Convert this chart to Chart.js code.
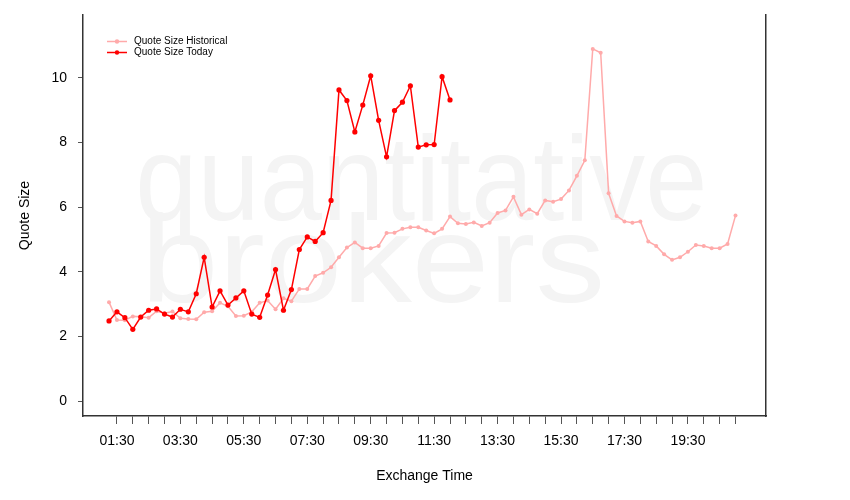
<!DOCTYPE html>
<html>
<head>
<meta charset="utf-8">
<script src="https://cdn.jsdelivr.net/npm/chart.js@4.4.1/dist/chart.umd.min.js"></script>
<style>
  html, body { margin: 0; padding: 0; background: #fff; }
  #chart { display: block; }
</style>
</head>
<body>
<canvas id="chart" width="850" height="500"></canvas>
<script>
// 15 minute buckets, exchange time
const times = [
  '01:15', '01:30', '01:45', '02:00', '02:15', '02:30', '02:45', '03:00',
  '03:15', '03:30', '03:45', '04:00', '04:15', '04:30', '04:45', '05:00',
  '05:15', '05:30', '05:45', '06:00', '06:15', '06:30', '06:45', '07:00',
  '07:15', '07:30', '07:45', '08:00', '08:15', '08:30', '08:45', '09:00',
  '09:15', '09:30', '09:45', '10:00', '10:15', '10:30', '10:45', '11:00',
  '11:15', '11:30', '11:45', '12:00', '12:15', '12:30', '12:45', '13:00',
  '13:15', '13:30', '13:45', '14:00', '14:15', '14:30', '14:45', '15:00',
  '15:15', '15:30', '15:45', '16:00', '16:15', '16:30', '16:45', '17:00',
  '17:15', '17:30', '17:45', '18:00', '18:15', '18:30', '18:45', '19:00',
  '19:15', '19:30', '19:45', '20:00', '20:15', '20:30', '20:45', '21:00'
];

const historical = [
  3.06, 2.51, 2.50, 2.62, 2.61, 2.58, 2.78, 2.72,
  2.77, 2.56, 2.54, 2.53, 2.75, 2.78, 3.04, 2.93,
  2.63, 2.64, 2.76, 3.04, 3.11, 2.84, 3.18, 3.09,
  3.47, 3.47, 3.87, 3.97, 4.14, 4.45, 4.75, 4.91,
  4.73, 4.73, 4.80, 5.20, 5.21, 5.33, 5.38, 5.38,
  5.28, 5.19, 5.33, 5.71, 5.50, 5.48, 5.53, 5.42,
  5.52, 5.82, 5.90, 6.32, 5.77, 5.93, 5.80, 6.21,
  6.17, 6.25, 6.52, 6.97, 7.45, 10.90, 10.78, 6.43,
  5.73, 5.56, 5.52, 5.56, 4.94, 4.80, 4.54, 4.37,
  4.45, 4.62, 4.83, 4.80, 4.73, 4.73, 4.86, 5.74
];

const today = [
  2.48, 2.76, 2.58, 2.22, 2.60, 2.81, 2.85, 2.69,
  2.60, 2.84, 2.76, 3.32, 4.45, 2.91, 3.41, 2.97,
  3.19, 3.41, 2.69, 2.59, 3.28, 4.07, 2.81, 3.45,
  4.69, 5.08, 4.94, 5.21, 6.21, 9.63, 9.30, 8.33,
  9.16, 10.07, 8.69, 7.56, 8.99, 9.25, 9.76, 7.86,
  7.93, 7.94, 10.04, 9.32
];

const tickLabels = ['01:30', '03:30', '05:30', '07:30', '09:30', '11:30', '13:30', '15:30', '17:30', '19:30'];
const yTicks = [0, 2, 4, 6, 8, 10];
const firstTick = '01:30';
const lastTick = '21:00';
const tickStep = 30; // minutes between small ticks

const fontFamily = '"Liberation Sans", Arial, Helvetica, sans-serif';
const frameColor = '#333';
const histColor = '#ffaaaa';
const todayColor = '#ff0000';

function toMinutes(t) {
  const [h, m] = t.split(':').map(Number);
  return h * 60 + m;
}

const labelMinutes = tickLabels.map(toMinutes);
const minorTicks = [];
for (let v = toMinutes(firstTick); v <= toMinutes(lastTick); v += tickStep) minorTicks.push(v);

const histPoints = historical.map((v, i) => ({ x: toMinutes(times[i]), y: v }));
const todayPoints = today.map((v, i) => ({ x: toMinutes(times[i]), y: v }));

function drawStretched(ctx, text, x0, x1, base, size) {
  ctx.font = size + 'px ' + fontFamily;
  const m = ctx.measureText(text);
  const inkW = m.actualBoundingBoxLeft + m.actualBoundingBoxRight;
  ctx.save();
  ctx.translate(x0, base);
  ctx.scale((x1 - x0) / inkW, 1);
  ctx.fillText(text, m.actualBoundingBoxLeft, 0);
  ctx.restore();
}

const watermark = {
  id: 'watermark',
  beforeDatasetsDraw(chart) {
    const ctx = chart.ctx;
    ctx.save();
    ctx.fillStyle = '#f4f4f4';
    ctx.textAlign = 'left';
    ctx.textBaseline = 'alphabetic';
    drawStretched(ctx, 'quantitative', 140, 703, 220, 120);
    drawStretched(ctx, 'brokers', 150, 600, 302, 125);
    ctx.restore();
  }
};

// key in the top left corner: line, dot, label
const keyBox = {
  id: 'keyBox',
  afterDatasetsDraw(chart) {
    const ctx = chart.ctx;
    ctx.save();
    ctx.font = '10px ' + fontFamily;
    ctx.textBaseline = 'middle';
    chart.data.datasets.forEach((ds, i) => {
      const y = 41.5 + i * 11;
      ctx.strokeStyle = ds.borderColor;
      ctx.lineWidth = 1.5;
      ctx.beginPath();
      ctx.moveTo(107, y);
      ctx.lineTo(127, y);
      ctx.stroke();
      ctx.fillStyle = ds.borderColor;
      ctx.beginPath();
      ctx.arc(117, y, 2.2, 0, Math.PI * 2);
      ctx.fill();
      ctx.fillStyle = '#000';
      ctx.fillText(ds.label, 134, y);
    });
    ctx.restore();
  }
};

const yMin = -0.464, yMax = 11.95;

function noPadV(s) { s.paddingTop = 0; s.paddingBottom = 0; }

new Chart(document.getElementById('chart'), {
  type: 'line',
  data: {
    datasets: [
      {
        label: 'Quote Size Historical',
        data: histPoints,
        borderColor: histColor,
        backgroundColor: histColor,
        borderWidth: 1.5,
        pointRadius: 2,
        pointBorderWidth: 0,
        tension: 0,
        order: 1
      },
      {
        label: 'Quote Size Today',
        data: todayPoints,
        borderColor: todayColor,
        backgroundColor: todayColor,
        borderWidth: 1.5,
        pointRadius: 2.6,
        pointBorderWidth: 0,
        tension: 0,
        order: 0
      }
    ]
  },
  options: {
    responsive: false,
    animation: false,
    devicePixelRatio: 1,
    layout: { padding: { top: 15, left: 0, right: 0, bottom: 0 } },
    plugins: {
      legend: { display: false },
      tooltip: { enabled: false }
    },
    scales: {
      x: {
        type: 'linear',
        min: 25.8,
        max: 1317.7,
        afterBuildTicks: (s) => { s.ticks = minorTicks.map(v => ({ value: v })); },
        afterFit: (s) => { s.height = 84; s.paddingLeft = 0; s.paddingRight = 0; },
        grid: { drawOnChartArea: false, drawTicks: true, tickLength: 8, color: '#555', lineWidth: 1 },
        border: { display: true, color: frameColor, width: 1.5 },
        ticks: {
          autoSkip: false,
          maxRotation: 0,
          padding: 9,
          color: '#000',
          font: { family: fontFamily, size: 14 },
          callback: (v) => {
            const k = labelMinutes.indexOf(v);
            return k >= 0 ? tickLabels[k] : '';
          }
        },
        title: {
          display: true,
          text: 'Exchange Time',
          color: '#000',
          font: { family: fontFamily, size: 14 },
          padding: { top: 0, bottom: 15.8 }
        }
      },
      y: {
        position: 'left',
        min: yMin,
        max: yMax,
        afterBuildTicks: (s) => { s.ticks = yTicks.map(v => ({ value: v })); },
        afterFit: (s) => { s.width = 83; noPadV(s); },
        grid: { drawOnChartArea: false, drawTicks: true, tickLength: 5, color: '#555', lineWidth: 1 },
        border: { display: true, color: frameColor, width: 1.5 },
        ticks: {
          padding: 11,
          color: '#000',
          font: { family: fontFamily, size: 14 }
        },
        title: {
          display: true,
          text: 'Quote Size',
          color: '#000',
          font: { family: fontFamily, size: 14 },
          padding: { top: 17, bottom: 0 }
        }
      },
      y2: {
        position: 'right',
        min: yMin,
        max: yMax,
        afterFit: (s) => { s.width = 84; noPadV(s); },
        grid: { display: false },
        border: { display: true, color: frameColor, width: 1.5 },
        ticks: { display: false }
      }
    }
  },
  plugins: [watermark, keyBox]
});
</script>
</body>
</html>
